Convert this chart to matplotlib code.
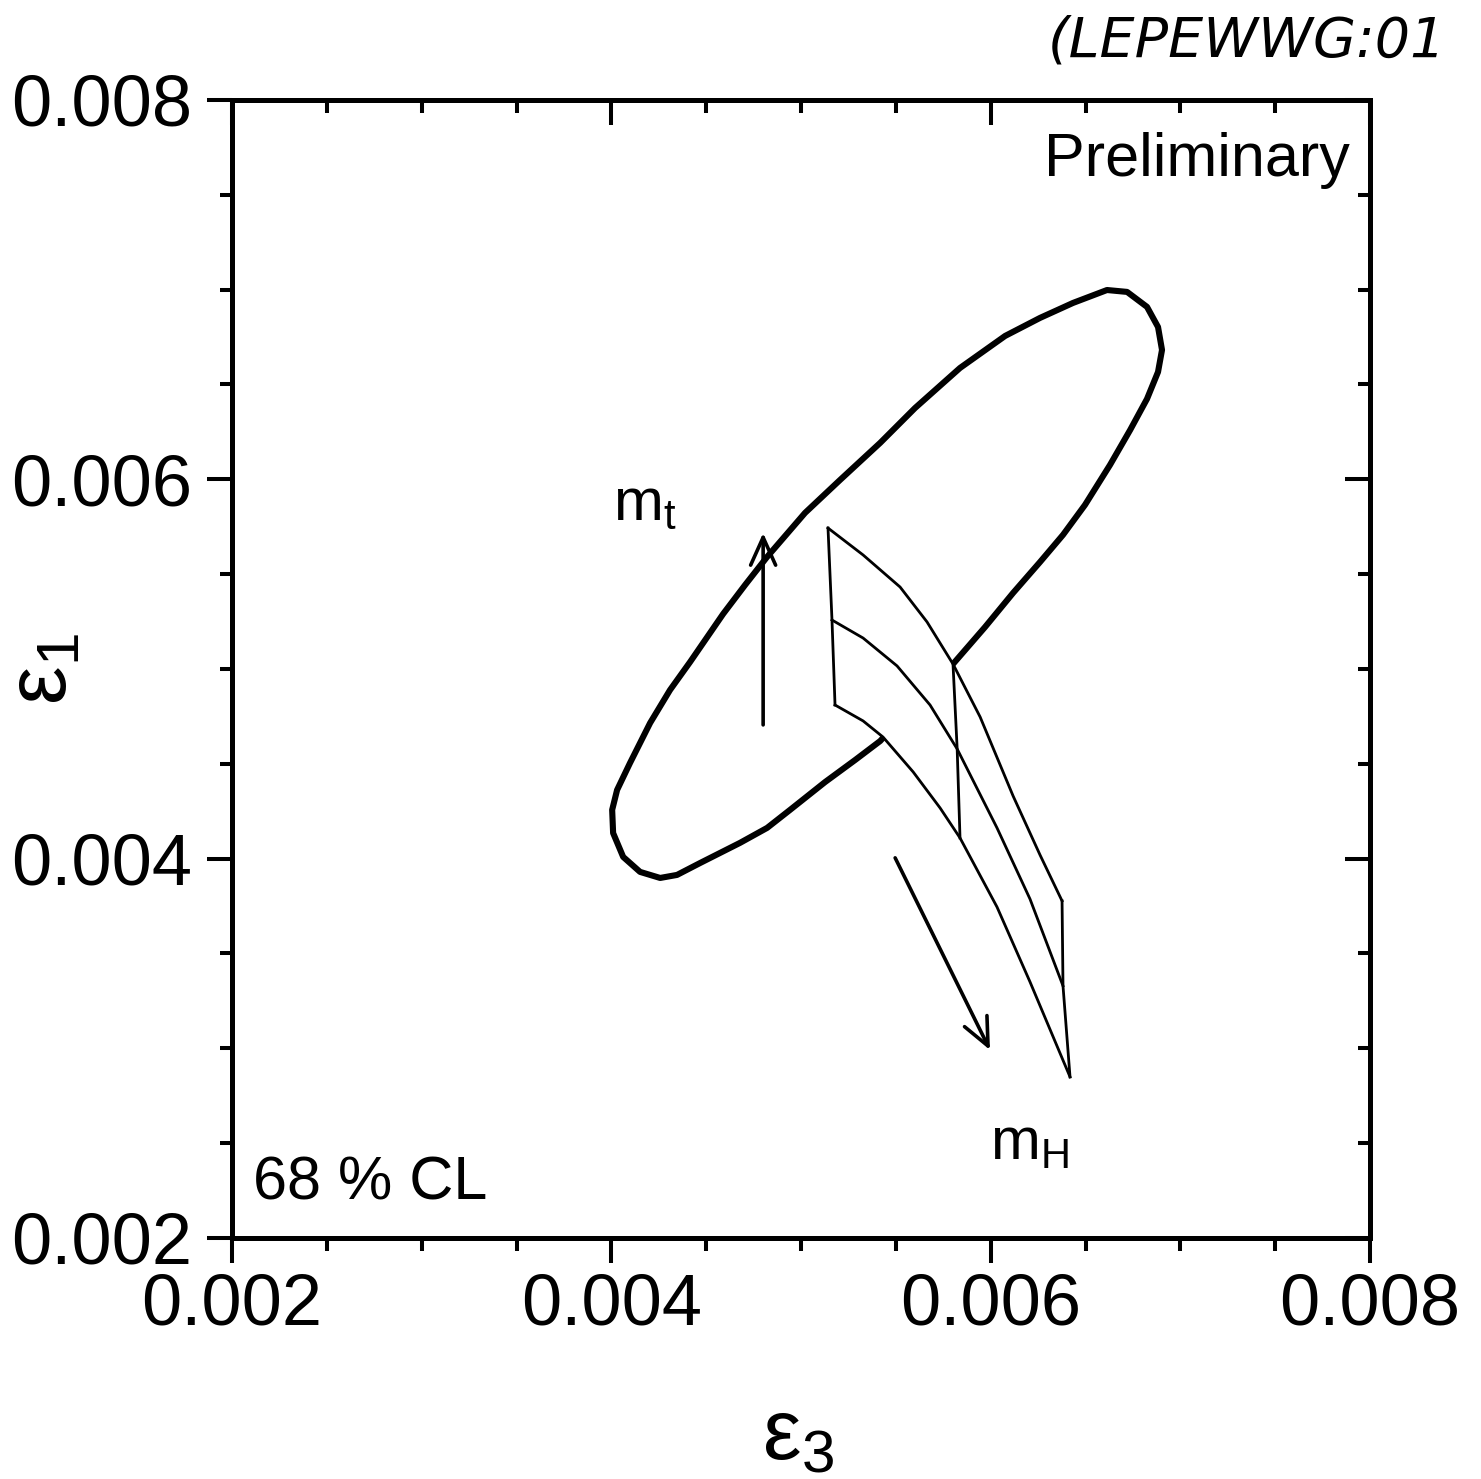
import matplotlib
matplotlib.use("Agg")
import matplotlib.pyplot as plt
from matplotlib.patches import Polygon
from matplotlib.ticker import MultipleLocator

plt.rcParams['font.family'] = ['Liberation Sans', 'DejaVu Sans']

# 68% CL contour in the (eps3, eps1) plane
CONTOUR_E3 = [0.006613, 0.006719, 0.006824, 0.006882, 0.006903, 0.006882, 0.006824,
              0.006735, 0.006629, 0.006497, 0.006381, 0.006260, 0.006118, 0.005970,
              0.005801, 0.005601, 0.005417, 0.005285, 0.005127, 0.004942, 0.004821,
              0.004678, 0.004468, 0.004346, 0.004257, 0.004151, 0.004062, 0.004009,
              0.004004, 0.004030, 0.004098, 0.004204, 0.004309, 0.004415, 0.004589,
              0.004705, 0.004821, 0.005021, 0.005206, 0.005417, 0.005601, 0.005838,
              0.006076, 0.006260, 0.006434]
CONTOUR_E1 = [0.006998, 0.006988, 0.006909, 0.006803, 0.006682, 0.006566, 0.006424,
              0.006260, 0.006076, 0.005865, 0.005707, 0.005564, 0.005401, 0.005221,
              0.005026, 0.004821, 0.004620, 0.004520, 0.004404, 0.004257, 0.004162,
              0.004083, 0.003977, 0.003914, 0.003898, 0.003930, 0.004009, 0.004135,
              0.004257, 0.004362, 0.004504, 0.004715, 0.004889, 0.005037, 0.005290,
              0.005443, 0.005591, 0.005823, 0.005997, 0.006192, 0.006376, 0.006587,
              0.006756, 0.006851, 0.006930]

# SM prediction: lines of fixed m_t (m_H running along them)
MT_HIGH_E3 = [0.005142, 0.005327, 0.005522, 0.005664, 0.005801, 0.005944, 0.006118, 0.006260, 0.006376]
MT_HIGH_E1 = [0.005743, 0.005601, 0.005432, 0.005248, 0.005026, 0.004747, 0.004330, 0.004019, 0.003777]
MT_MID_E3 = [0.005163, 0.005327, 0.005506, 0.005680, 0.005823, 0.006033, 0.006207, 0.006381]
MT_MID_E1 = [0.005258, 0.005163, 0.005016, 0.004810, 0.004578, 0.004162, 0.003787, 0.003329]
MT_LOW_E3 = [0.005179, 0.005327, 0.005432, 0.005591, 0.005733, 0.005838, 0.006033, 0.006207, 0.006418]
MT_LOW_E1 = [0.004810, 0.004726, 0.004641, 0.004457, 0.004267, 0.004109, 0.003745, 0.003350, 0.002849]
# line of intermediate m_H across the band
MH_MID_E3 = [0.005801, 0.005823, 0.005838]
MH_MID_E1 = [0.005026, 0.004578, 0.004109]

# direction arrows (tail, head)
MT_ARROW = [(0.0048, 0.004705), (0.0048, 0.005717)]
MH_ARROW = [(0.005496, 0.004004), (0.005996, 0.002991)]

TICKS = [0.002, 0.004, 0.006, 0.008]
TICK_LABELS = ["0.002", "0.004", "0.006", "0.008"]

fig = plt.figure(figsize=(14.81, 14.79), dpi=100)
ax = fig.add_axes([0.1567, 0.163, 0.7684, 0.7694])
ax.set_xlim(0.002, 0.008)
ax.set_ylim(0.002, 0.008)

# contour
ax.add_patch(Polygon(list(zip(CONTOUR_E3, CONTOUR_E1)), closed=True, fill=False,
                     ec='black', lw=4.4, joinstyle='round', zorder=2))

# SM band, white filled so it covers the contour
band = list(zip(MT_HIGH_E3, MT_HIGH_E1)) + list(zip(MT_LOW_E3, MT_LOW_E1))[::-1]
ax.add_patch(Polygon(band, closed=True, fc='white', ec='none', zorder=3))
thin = dict(color='black', lw=2.0, zorder=4, solid_joinstyle='round')
for xs, ys in [(MT_HIGH_E3, MT_HIGH_E1), (MT_MID_E3, MT_MID_E1),
               (MT_LOW_E3, MT_LOW_E1), (MH_MID_E3, MH_MID_E1)]:
    ax.plot(xs, ys, **thin)
ax.plot([MT_HIGH_E3[0], MT_MID_E3[0], MT_LOW_E3[0]],
        [MT_HIGH_E1[0], MT_MID_E1[0], MT_LOW_E1[0]], **thin)
ax.plot([MT_HIGH_E3[-1], MT_MID_E3[-1], MT_LOW_E3[-1]],
        [MT_HIGH_E1[-1], MT_MID_E1[-1], MT_LOW_E1[-1]], **thin)

for tail, head in [MT_ARROW, MH_ARROW]:
    ax.annotate('', xy=head, xytext=tail, zorder=5,
                arrowprops=dict(arrowstyle='->,head_length=2.0,head_width=0.9',
                                lw=2.6, color='black', shrinkA=0, shrinkB=0,
                                mutation_scale=10))

ax.text(0.004009, 0.005786, r'$\mathregular{m_t}$', fontsize=43, va='baseline')
ax.text(0.005997, 0.002411, r'$\mathregular{m_H}$', fontsize=43, va='baseline')
ax.text(0.982, 0.972, 'Preliminary', transform=ax.transAxes, fontsize=44,
        ha='right', va='top')
ax.text(0.018, 0.022, '68 % CL', transform=ax.transAxes, fontsize=44,
        ha='left', va='bottom')

# axes frame and ticks: outward on bottom/left, inward on top/right
for sp in ax.spines.values():
    sp.set_linewidth(3.6)
ax.set_xticks(TICKS)
ax.set_xticklabels(TICK_LABELS)
ax.set_yticks(TICKS)
ax.set_yticklabels(TICK_LABELS)
ax.xaxis.set_minor_locator(MultipleLocator(0.0005))
ax.yaxis.set_minor_locator(MultipleLocator(0.0005))
ax.tick_params(which='major', direction='out', length=18, width=2.9, labelsize=52)
ax.tick_params(which='minor', direction='out', length=9, width=2.9)
ax.tick_params(axis='x', which='major', pad=7)
ax.tick_params(axis='y', which='major', pad=11)

secx = ax.secondary_xaxis('top')
secx.set_xticks(TICKS)
secx.xaxis.set_minor_locator(MultipleLocator(0.0005))
secx.tick_params(which='major', direction='in', length=18, width=2.9, labeltop=False)
secx.tick_params(which='minor', direction='in', length=9, width=2.9)
secx.spines['top'].set_linewidth(3.6)

secy = ax.secondary_yaxis('right')
secy.set_yticks(TICKS)
secy.yaxis.set_minor_locator(MultipleLocator(0.0005))
secy.tick_params(which='major', direction='in', length=18, width=2.9, labelright=False)
secy.tick_params(which='minor', direction='in', length=9, width=2.9)
secy.spines['right'].set_linewidth(3.6)

ax.set_xlabel(r'$\mathregular{ε_3}$', fontsize=62, va='center')
ax.xaxis.set_label_coords(0.497, -0.175)
ax.set_ylabel(r'$\mathregular{ε_1}$', fontsize=62, va='center')
ax.yaxis.set_label_coords(-0.165, 0.5)

fig.text(0.7076, 0.990, '(LEPEWWG:01', fontsize=40, style='italic',
         family='DejaVu Sans', ha='left', va='top')

fig.savefig('out.png', dpi=100, facecolor='white')
